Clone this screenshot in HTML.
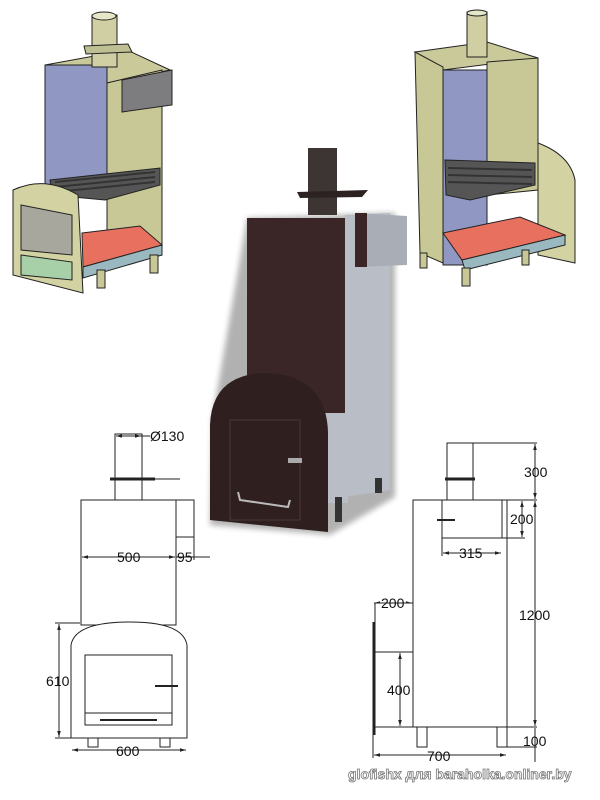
<!DOCTYPE html>
<html><head><meta charset="utf-8"><style>
html,body{margin:0;padding:0;background:#fff;width:600px;height:800px;overflow:hidden}
svg{display:block}
text{font-family:"Liberation Sans",sans-serif}
</style></head><body>
<svg width="600" height="800" viewBox="0 0 600 800" xmlns="http://www.w3.org/2000/svg">
<defs>
<filter id="sh" x="-20%" y="-20%" width="140%" height="140%"><feGaussianBlur stdDeviation="3"/></filter>
<marker id="a" viewBox="0 0 10 10" refX="10" refY="5" markerWidth="6" markerHeight="6" orient="auto-start-reverse"><path d="M0,2 L10,5 L0,8 Z" fill="#222"/></marker>
</defs>
<rect width="600" height="800" fill="#fff"/>

<!-- LEFT 3D -->
<g stroke="#222" stroke-width="1">
<polygon points="45,65 127,50 170,70 107,83" fill="#c9c99a"/>
<rect x="45" y="65" width="62" height="120" fill="#8f97c2"/>
<polygon points="107,83 162,70 162,255 107,260" fill="#c8c897"/>
<rect x="92" y="15" width="25" height="52" fill="#cfcfa3"/>
<ellipse cx="104" cy="16" rx="12" ry="4" fill="#e6e6c8"/>
<polygon points="84,46 128,44 132,52 86,54" fill="#bfbf94"/>
<polygon points="122,80 172,70 172,105 122,112" fill="#7d7d80"/>
<polygon points="50,180 160,168 160,185 105,200 52,195" fill="#555"/>
<g stroke="#333" stroke-width="2"><line x1="55" y1="182" x2="155" y2="172"/><line x1="55" y1="187" x2="155" y2="177"/><line x1="55" y1="192" x2="155" y2="182"/></g>
<polygon points="82,233 140,226 162,245 83,267" fill="#e8705f"/>
<polygon points="83,267 162,245 162,255 83,278" fill="#9ab8c0"/>
<rect x="97" y="270" width="8" height="18" fill="#c8c897"/>
<rect x="150" y="255" width="8" height="18" fill="#c8c897"/>
<path d="M13,190 Q45,175 78,195 L83,293 L13,275 Z" fill="#d2d2a2"/>
<polygon points="21,205 72,215 72,255 21,250" fill="#a7a79d"/>
<polygon points="21,255 72,262 72,280 21,275" fill="#a7d0a8"/>
</g>

<!-- RIGHT 3D -->
<g stroke="#222" stroke-width="1">
<polygon points="415,52 487,42 538,58 443,70" fill="#c9c99a"/>
<rect x="443" y="70" width="44" height="195" fill="#8f97c2"/>
<polygon points="487,62 538,58 538,190 487,195" fill="#c8c897"/>
<polygon points="415,52 443,67 443,263 420,253" fill="#c8c897"/>
<rect x="467" y="12" width="20" height="45" fill="#cfcfa3"/>
<ellipse cx="477" cy="13" rx="10" ry="3" fill="#e6e6c8"/>
<polygon points="445,160 535,163 535,185 470,200 446,195" fill="#555"/>
<g stroke="#333" stroke-width="2"><line x1="448" y1="168" x2="532" y2="170"/><line x1="448" y1="175" x2="532" y2="177"/><line x1="448" y1="182" x2="532" y2="184"/></g>
<path d="M538,143 Q570,155 575,180 L575,263 L538,255 Z" fill="#d2d2a2"/>
<polygon points="443,233 520,217 565,235 462,260" fill="#e8705f"/>
<polygon points="462,260 565,235 565,245 465,270" fill="#9ab8c0"/>
<rect x="420" y="253" width="7" height="15" fill="#c8c897"/>
<rect x="462" y="268" width="8" height="18" fill="#c8c897"/>
<rect x="522" y="250" width="7" height="15" fill="#c8c897"/>
</g>

<!-- PHOTO -->
<polygon points="212,420 247,218 395,213 395,497 330,535 210,525" fill="#000" opacity="0.3" filter="url(#sh)"/>
<polygon points="345,215 390,213 390,490 345,497" fill="#b8bdc6"/>
<rect x="326" y="413" width="22" height="90" fill="#b8bdc6"/>
<rect x="247" y="218" width="98" height="195" fill="#3a2626"/>
<rect x="308" y="148" width="29" height="67" fill="#3d3434"/>
<polygon points="297,192 368,190 362,197 300,198" fill="#2c2222"/>
<polygon points="355,213 407,216 407,265 355,267" fill="#a8adb6"/>
<rect x="355" y="213" width="12" height="54" fill="#3a2626"/>
<path d="M210,425 Q212,373 268,373 Q326,376 328,432 L328,532 L210,520 Z" fill="#2f1f1f"/>
<rect x="230" y="420" width="70" height="100" fill="none" stroke="#4a3a3a"/>
<path d="M238,492 L240,500 L288,507 L290,500" fill="none" stroke="#bbb" stroke-width="2"/>
<rect x="288" y="458" width="14" height="5" fill="#aaa"/>
<rect x="335" y="497" width="7" height="25" fill="#333"/>
<rect x="375" y="478" width="7" height="15" fill="#333"/>

<!-- BOTTOM LEFT DRAWING -->
<g stroke="#222" stroke-width="1" fill="none">
<rect x="115" y="434" width="27" height="66"/>
<line x1="110" y1="479" x2="155" y2="479" stroke-width="3"/>
<line x1="155" y1="479" x2="180" y2="479"/>
<rect x="81" y="500" width="95" height="125"/>
<rect x="176" y="500" width="18" height="37"/>
<line x1="82" y1="557" x2="175" y2="557" marker-start="url(#a)" marker-end="url(#a)"/>
<line x1="176" y1="557" x2="210" y2="557"/>
<line x1="194" y1="537" x2="194" y2="560"/>
<path d="M71,645 Q75,622 130,622 Q183,622 187,645 L187,738 L71,738 Z" fill="#fff"/>
<rect x="85" y="655" width="87" height="70"/>
<line x1="85" y1="713" x2="172" y2="713"/>
<line x1="100" y1="720" x2="157" y2="720" stroke-width="2"/>
<line x1="155" y1="686" x2="178" y2="686" stroke-width="2"/>
<line x1="59" y1="624" x2="59" y2="737" marker-start="url(#a)" marker-end="url(#a)"/>
<line x1="55" y1="623" x2="80" y2="623"/>
<line x1="55" y1="738" x2="71" y2="738"/>
<line x1="72" y1="750" x2="186" y2="750" marker-start="url(#a)" marker-end="url(#a)"/>
<rect x="88" y="738" width="10" height="9"/>
<rect x="160" y="738" width="10" height="9"/>
<line x1="116" y1="436" x2="141" y2="436" marker-start="url(#a)" marker-end="url(#a)"/>
<line x1="141" y1="436" x2="150" y2="436"/>
</g>
<g font-size="14" fill="#111">
<text x="150" y="441">Ø130</text>
<text x="117" y="562">500</text>
<text x="177" y="562">95</text>
<text x="46" y="686">610</text>
<text x="116" y="756">600</text>
</g>

<!-- BOTTOM RIGHT DRAWING -->
<g stroke="#222" stroke-width="1" fill="none">
<rect x="447" y="443" width="26" height="57"/>
<line x1="445" y1="479" x2="475" y2="479" stroke-width="3"/>
<line x1="447" y1="443" x2="537" y2="443"/>
<rect x="413" y="500" width="94" height="227"/>
<rect x="442" y="500" width="60" height="38"/>
<line x1="507" y1="500" x2="537" y2="500"/>
<line x1="535" y1="444" x2="535" y2="499" marker-start="url(#a)" marker-end="url(#a)"/>
<line x1="535" y1="501" x2="535" y2="726" marker-start="url(#a)" marker-end="url(#a)"/>
<line x1="535" y1="728" x2="535" y2="762"/>
<line x1="522" y1="501" x2="522" y2="537" marker-start="url(#a)" marker-end="url(#a)"/>
<line x1="502" y1="538" x2="525" y2="538"/>
<line x1="443" y1="553" x2="501" y2="553" marker-start="url(#a)" marker-end="url(#a)"/>
<line x1="442" y1="538" x2="442" y2="556"/>
<line x1="374" y1="603" x2="412" y2="603" marker-start="url(#a)" marker-end="url(#a)"/>
<rect x="375" y="603" width="38" height="49" fill="#fff"/>
<line x1="374" y1="622" x2="374" y2="735" stroke-width="3"/>
<line x1="400" y1="653" x2="400" y2="726" marker-start="url(#a)" marker-end="url(#a)"/>
<line x1="373" y1="727" x2="537" y2="727"/>
<rect x="417" y="727" width="10" height="20"/>
<rect x="497" y="727" width="10" height="20"/>
<line x1="374" y1="755" x2="506" y2="755" marker-start="url(#a)" marker-end="url(#a)"/>
<line x1="373" y1="735" x2="373" y2="758"/>
<line x1="507" y1="747" x2="537" y2="747"/>
<line x1="437" y1="520" x2="455" y2="520" stroke-width="2"/>
</g>
<g font-size="14" fill="#111">
<text x="524" y="477">300</text>
<text x="510" y="524">200</text>
<text x="459" y="558">315</text>
<text x="519" y="620">1200</text>
<text x="381" y="608">200</text>
<text x="387" y="695">400</text>
<text x="427" y="761">700</text>
<text x="523" y="746">100</text>
</g>
<text x="348" y="779" font-size="14" font-weight="bold" fill="#fff" stroke="#777" stroke-width="0.8">glofishx для baraholka.onliner.by</text>
</svg>
</body></html>
